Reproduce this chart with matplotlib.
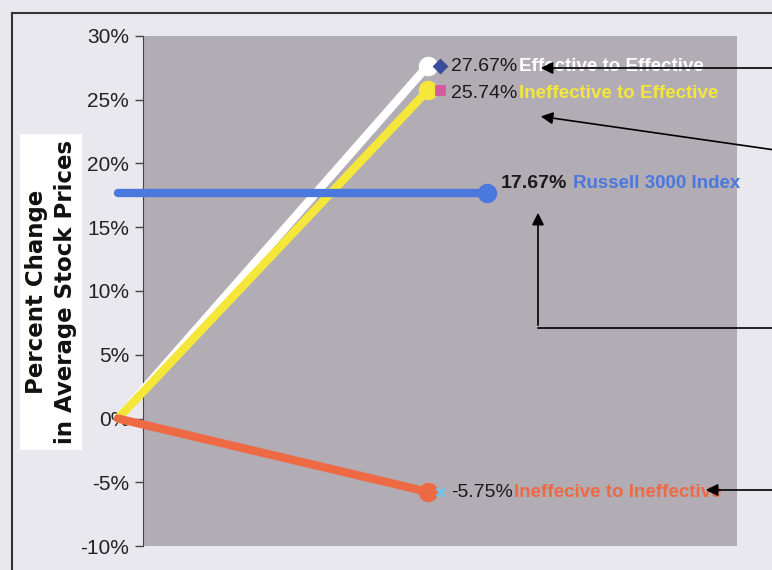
import matplotlib.pyplot as plt
from matplotlib.patches import Rectangle, FancyArrowPatch

# data
periods = [0, 1]
series_names = ["Effective to Effective", "Ineffective to Effective",
                "Ineffecive to Ineffective"]
series_start = [0.0, 0.0, 0.0]
series_end = [27.67, 25.74, -5.75]
series_colors = ["#FFFFFF", "#F5E63A", "#EE6A45"]
marker_colors = ["#3A4C9A", "#D9579E", "#6FC3E6"]
marker_shapes = ["D", "s", "x"]

index_name = "Russell 3000 Index"
index_value = 17.67
index_x = [0, 1.19]
index_color = "#4A78DC"

yticks = [-10, -5, 0, 5, 10, 15, 20, 25, 30]
ytick_labels = ["-10%", "-5%", "0%", "5%", "10%", "15%", "20%", "25%", "30%"]
ylabel = "Percent Change\nin Average Stock Prices"

sans = ["Liberation Sans", "DejaVu Sans"]

fig = plt.figure(figsize=(7.72, 5.70), dpi=100, facecolor="#E9E8EE")
ax = fig.add_axes([0.1852, 0.042, 0.7694, 0.895])
ax.set_facecolor("none")
ax.add_patch(Rectangle((0, 0), 1, 1, transform=ax.transAxes,
                       facecolor="#B2ADB5", edgecolor="none", zorder=0))
ax.set_xlim(0.081, 1.997)
ax.set_ylim(-10, 30)

for s0, s1, c in zip(series_start, series_end, series_colors):
    ax.plot(periods, [s0, s1], color=c, lw=6, solid_capstyle="round",
            clip_on=False, zorder=3)
    ax.plot(periods[1], s1, "o", color=c, ms=13, clip_on=False, zorder=4)

ax.plot(index_x, [index_value, index_value], color=index_color, lw=6,
        solid_capstyle="round", clip_on=False, zorder=3)
ax.plot(index_x[1], index_value, "o", color=index_color, ms=13, zorder=4)

for s1, mc, mk in zip(series_end, marker_colors, marker_shapes):
    ax.plot(1.04, s1, mk, color=mc, ms=6, mew=2, zorder=4)

# value labels and names
label_y = [27.6, 25.5, -5.8]
for y, v, name, c in zip(label_y, series_end, series_names, series_colors):
    t = ax.text(1.075, y, f"{v:.2f}%", color="#1A1A1A", fontsize=14,
                family=sans, va="center", ha="left", zorder=5)
    ax.annotate(name, xy=(1, 0.5), xycoords=t, xytext=(1, 0),
                textcoords="offset points", color=c, fontsize=13.5,
                fontweight="bold", family=sans, va="center", ha="left",
                zorder=5)
t = ax.text(1.235, 18.4, f"{index_value:.2f}%", color="#1A1A1A",
            fontsize=14, fontweight="bold", family=sans, va="center",
            ha="left", zorder=5)
ax.annotate(index_name, xy=(1, 0.5), xycoords=t, xytext=(4, 0),
            textcoords="offset points", color=index_color, fontsize=13.5,
            fontweight="bold", family=sans, va="center", ha="left",
            zorder=5)

# arrows coming from the right edge
arr = dict(arrowstyle="-|>", color="black", lw=1.2, mutation_scale=18)
fig_px = lambda x, y: (x / 772, 1 - y / 570)
for (x0, y0), (x1, y1) in [((775, 68), (538, 68)),
                           ((775, 150), (538, 116)),
                           ((775, 490), (703, 490))]:
    fig.add_artist(FancyArrowPatch(fig_px(x0, y0), fig_px(x1, y1),
                                   transform=fig.transFigure, **arr))
fig.add_artist(plt.Line2D([538 / 772, 775 / 772], [1 - 328 / 570] * 2,
                          transform=fig.transFigure, color="black", lw=1.2))
fig.add_artist(FancyArrowPatch(fig_px(538, 328), fig_px(538, 210),
                               transform=fig.transFigure, **arr))

# frame around the chart
fig.add_artist(plt.Line2D([0.015, 1.0], [1 - 13 / 570] * 2,
                          transform=fig.transFigure, color="#333333", lw=1.5))
fig.add_artist(plt.Line2D([0.015, 0.015], [0, 1 - 13 / 570],
                          transform=fig.transFigure, color="#333333", lw=1.5))

ax.set_yticks(yticks)
ax.set_yticklabels(ytick_labels, family=sans, fontsize=15, color="#222222")
ax.set_xticks([])
ax.tick_params(axis="y", length=6, width=1, color="#444444", pad=4)
for side in ["top", "right", "bottom"]:
    ax.spines[side].set_visible(False)
ax.spines["left"].set_color("#444444")

fig.text(0.066, 1 - 292 / 570, ylabel, rotation=90, ha="center", va="center",
         fontsize=16.5, fontweight="bold", family="DejaVu Sans",
         color="#111111", linespacing=1.3,
         bbox=dict(facecolor="white", edgecolor="none", pad=4))

fig.savefig("out.png", dpi=100, facecolor=fig.get_facecolor())
